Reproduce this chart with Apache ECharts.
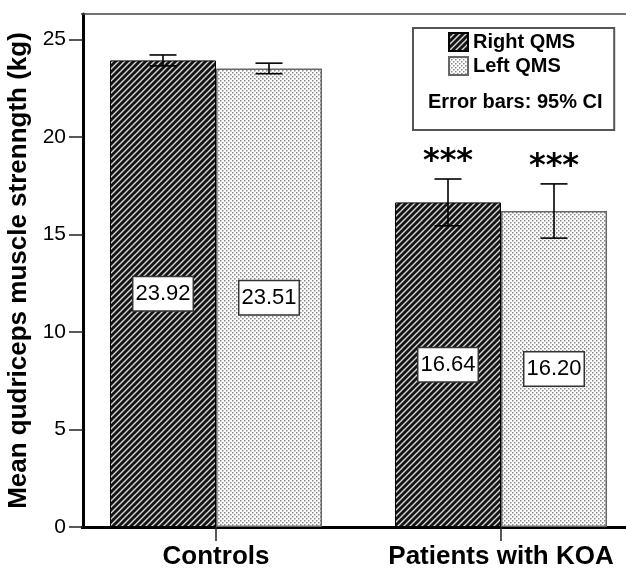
<!DOCTYPE html>
<html><head><meta charset="utf-8">
<script src="https://cdn.jsdelivr.net/npm/echarts@6/dist/echarts.min.js"></script>
<style>html,body{margin:0;padding:0;background:#fff}#c{width:626px;height:570px}</style>
</head><body><div id="c"></div><script>
// ---- data ----
const categories = ['Controls', 'Patients with KOA'];
const seriesNames = ['Right QMS', 'Left QMS'];
const rightMeans = [23.92, 16.64];
const leftMeans = [23.51, 16.20];
const rightCILow = [23.64, 15.44];
const rightCIHigh = [24.20, 17.84];
const leftCILow = [23.24, 14.81];
const leftCIHigh = [23.78, 17.59];
const significance = ['', '***'];
const yTicks = [0, 5, 10, 15, 20, 25];
const yMin = 0, yMax = 26.3;
const noteText = 'Error bars: 95% CI';
const yTitle = 'Mean qudriceps muscle strenngth (kg)';

// ---- styles ----
const FONT = '"Liberation Sans", Arial, sans-serif';
const BAR_W = 106;
const GRID_LEFT = 73.5, GRID_W = 570, Y_OFFSET = -9.5;

function stripePattern() {
  const s = 6, c = document.createElement('canvas');
  c.width = s; c.height = s;
  const g = c.getContext('2d');
  g.fillStyle = '#141414'; g.fillRect(0, 0, s, s);
  g.strokeStyle = '#d8d8d8'; g.lineWidth = 1.4;
  g.beginPath();
  g.moveTo(-1, s + 1); g.lineTo(s + 1, -1);
  g.moveTo(-1, 1); g.lineTo(1, -1);
  g.moveTo(s - 1, s + 1); g.lineTo(s + 1, s - 1);
  g.stroke();
  return c;
}
function dotPattern() {
  const s = 4, c = document.createElement('canvas');
  c.width = s; c.height = s;
  const g = c.getContext('2d');
  g.fillStyle = '#ffffff'; g.fillRect(0, 0, s, s);
  g.fillStyle = '#8a8a8a';
  g.fillRect(0, 0, 1.5, 1.5);
  g.fillRect(2, 2, 1.5, 1.5);
  return c;
}
// line colour that starts at the (shifted) y axis instead of the grid edge
function trimmedLine(color) {
  const f = -Y_OFFSET / GRID_W;
  return {
    type: 'linear', x: 0, y: 0, x2: 1, y2: 0,
    colorStops: [
      { offset: 0, color: 'rgba(255,255,255,0)' },
      { offset: f, color: 'rgba(255,255,255,0)' },
      { offset: f + 0.0001, color: color },
      { offset: 1, color: color }
    ]
  };
}

const labelStyle = {
  show: true, position: 'inside',
  formatter: p => Number(p.value).toFixed(2),
  fontFamily: FONT, fontSize: 22, color: '#000',
  backgroundColor: '#fff', borderColor: '#333', borderWidth: 1.5,
  padding: [6, 2, 5, 2]
};

function errRender(lows, highs, side) {
  return function (params, api) {
    const i = params.dataIndex;
    const x = api.value(0);
    const pHi = api.coord([x, highs[i]]);
    const pLo = api.coord([x, lows[i]]);
    const cx = pHi[0] + side * BAR_W / 2;
    const cap = 13.5;
    const st = { stroke: '#000', lineWidth: 1.6 };
    const children = [
      { type: 'line', shape: { x1: cx, y1: pHi[1], x2: cx, y2: pLo[1] }, style: st },
      { type: 'line', shape: { x1: cx - cap, y1: pHi[1], x2: cx + cap, y2: pHi[1] }, style: st },
      { type: 'line', shape: { x1: cx - cap, y1: pLo[1], x2: cx + cap, y2: pLo[1] }, style: st }
    ];
    if (significance[i]) {
      children.push({
        type: 'text',
        style: {
          x: cx, y: pHi[1] - 1, text: significance[i],
          fill: '#000', font: 'bold 32px "DejaVu Sans", sans-serif',
          align: 'center', verticalAlign: 'bottom'
        }
      });
    }
    return { type: 'group', children };
  };
}

const chart = echarts.init(document.getElementById('c'), null, { renderer: 'canvas' });
chart.setOption({
  animation: false,
  backgroundColor: '#fff',
  textStyle: { fontFamily: FONT },
  grid: { left: GRID_LEFT, top: 14, width: GRID_W, bottom: 43, containLabel: false, outerBoundsMode: 'none' },
  title: {
    text: noteText, left: 428, top: 92, padding: 0,
    textStyle: { fontFamily: FONT, fontSize: 20, fontWeight: 'bold', color: '#000', lineHeight: 20 }
  },
  legend: {
    data: seriesNames, orient: 'vertical', left: 413, top: 28,
    padding: [4, 39, 54, 35], itemWidth: 19, itemHeight: 18, itemGap: 4,
    backgroundColor: '#fff', borderColor: '#555', borderWidth: 2,
    icon: 'rect',
    textStyle: { fontFamily: FONT, fontSize: 20, fontWeight: 'bold', color: '#000' }
  },
  xAxis: [{
    type: 'category', data: categories, position: 'bottom',
    axisLine: { show: true, lineStyle: { color: trimmedLine('#000'), width: 3 } },
    axisTick: { show: true, alignWithLabel: true, interval: 0, length: 14, lineStyle: { color: '#222', width: 1.5 } },
    axisLabel: { interval: 0, hideOverlap: false, margin: 17, fontFamily: FONT, fontSize: 26, fontWeight: 'bold', color: '#000' },
    splitLine: { show: false }
  }, {
    type: 'category', data: categories, position: 'top',
    axisLine: { show: true, lineStyle: { color: trimmedLine('#444'), width: 1.5 } },
    axisTick: { show: false }, axisLabel: { show: false }, splitLine: { show: false }
  }],
  yAxis: {
    type: 'value', min: yMin, max: yMax, offset: Y_OFFSET,
    name: yTitle, nameLocation: 'middle', nameGap: 48, nameRotate: 90,
    nameTextStyle: { fontFamily: FONT, fontSize: 26, fontWeight: 'bold', color: '#000' },
    axisLine: { show: true, lineStyle: { color: '#000', width: 3 } },
    axisTick: { show: true, length: 14, customValues: yTicks, lineStyle: { color: '#222', width: 1.5 } },
    axisLabel: { margin: 17, customValues: yTicks, fontFamily: FONT, fontSize: 21, color: '#000' },
    splitLine: { show: false }
  },
  series: [{
    name: seriesNames[0], type: 'bar', data: rightMeans,
    barWidth: BAR_W, barGap: '0%',
    itemStyle: { color: { image: stripePattern(), repeat: 'repeat' }, borderColor: '#000', borderWidth: 1 },
    label: labelStyle
  }, {
    name: seriesNames[1], type: 'bar', data: leftMeans,
    barWidth: BAR_W, barGap: '0%',
    itemStyle: { color: { image: dotPattern(), repeat: 'repeat' }, borderColor: '#666', borderWidth: 1.5 },
    label: labelStyle
  }, {
    name: 'ciRight', type: 'custom', z: 5,
    data: categories.map((c, i) => [i, rightCILow[i], rightCIHigh[i]]),
    renderItem: errRender(rightCILow, rightCIHigh, -1)
  }, {
    name: 'ciLeft', type: 'custom', z: 5,
    data: categories.map((c, i) => [i, leftCILow[i], leftCIHigh[i]]),
    renderItem: errRender(leftCILow, leftCIHigh, 1)
  }]
});
</script></body></html>
